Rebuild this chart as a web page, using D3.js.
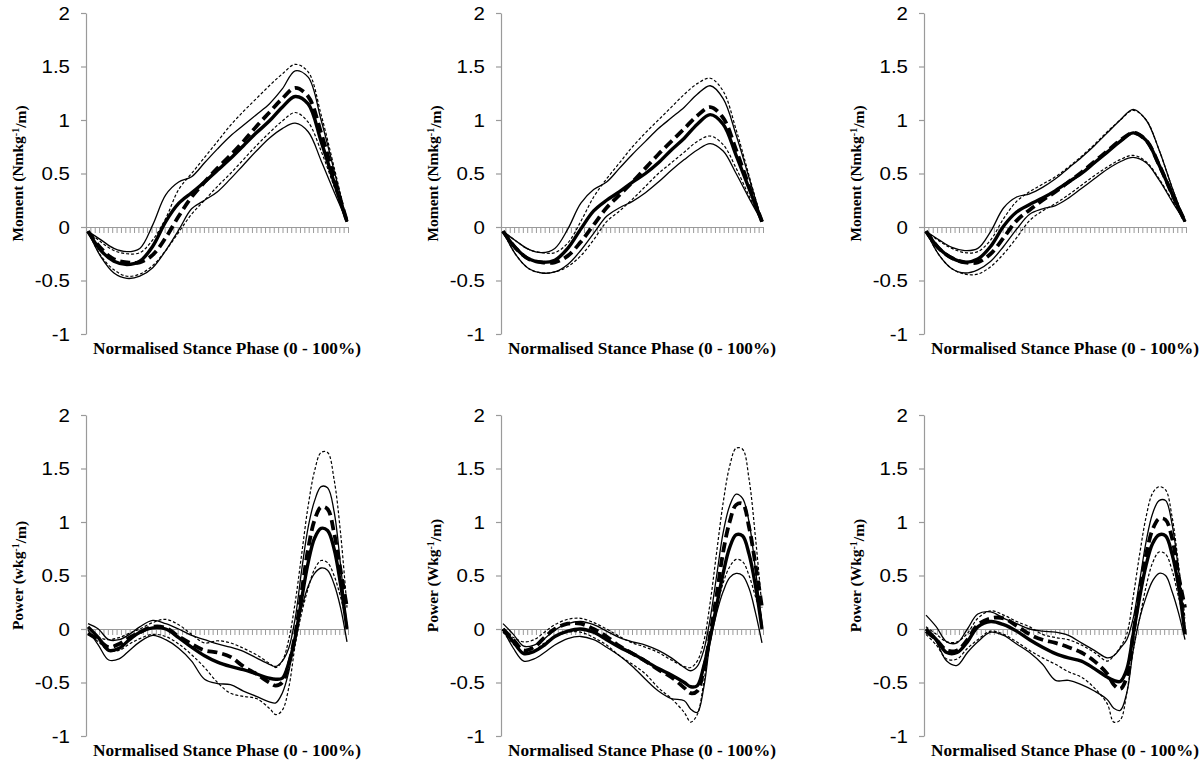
<!DOCTYPE html>
<html><head><meta charset="utf-8">
<script src="https://cdn.jsdelivr.net/npm/d3@7"></script>
<style>
html,body{margin:0;padding:0;background:#fff;}
svg{display:block;}
</style></head>
<body>
<svg id="chart" width="1200" height="760"></svg>
<script>
// ---------------- DATA ----------------
const yTickValues = [-1, -0.5, 0, 0.5, 1, 1.5, 2];
const yTickLabels = ["-1", "-0.5", "0", "0.5", "1", "1.5", "2"];
const xTitle = "Normalised Stance Phase (0 - 100%)";
const momentTitle = ["Moment (Nmkg", "-1", "/m)"];
const powerTitleLower = ["Power (wkg", "-1", "/m)"];
const powerTitleUpper = ["Power (Wkg", "-1", "/m)"];

// stance phase (%) sample positions
const momentPct = [0,5,10,15,20,25,30,35,40,45,50,55,60,65,70,75,80,85,90,95,100];
const powerPct  = [0,4,8,12,16,20,25,30,35,40,45,50,55,60,65,70,72.5,75,77.5,80,82.5,85,87.5,90,92.5,95,97.5,100];

// Panel 1 (top-left) moment
const m1MeanA = [-0.04,-0.22,-0.32,-0.35,-0.32,-0.18,0.05,0.22,0.32,0.42,0.53,0.64,0.76,0.88,0.99,1.12,1.22,1.15,0.8,0.42,0.05];
const m1MeanB = [-0.04,-0.2,-0.3,-0.33,-0.33,-0.26,-0.1,0.1,0.28,0.42,0.55,0.67,0.8,0.94,1.07,1.2,1.3,1.22,0.88,0.46,0.05];
const m1UpA   = [-0.04,-0.12,-0.2,-0.23,-0.2,0.02,0.3,0.42,0.47,0.6,0.73,0.85,0.95,1.05,1.15,1.29,1.46,1.4,1.0,0.53,0.05];
const m1LoA   = [-0.04,-0.28,-0.43,-0.48,-0.46,-0.38,-0.22,-0.03,0.17,0.25,0.33,0.45,0.58,0.71,0.83,0.92,0.97,0.89,0.62,0.33,0.05];
const m1UpB   = [-0.04,-0.14,-0.22,-0.25,-0.24,-0.12,0.08,0.35,0.5,0.65,0.8,0.95,1.08,1.2,1.32,1.43,1.52,1.45,1.05,0.56,0.05];
const m1LoB   = [-0.04,-0.27,-0.4,-0.46,-0.44,-0.36,-0.22,-0.05,0.12,0.25,0.38,0.5,0.63,0.76,0.88,0.99,1.07,0.98,0.71,0.38,0.05];

// Panel 2 (top-middle) moment
const m2MeanA = [-0.04,-0.2,-0.3,-0.33,-0.31,-0.2,-0.02,0.15,0.25,0.33,0.42,0.5,0.6,0.72,0.83,0.96,1.05,0.96,0.67,0.36,0.05];
const m2MeanB = [-0.04,-0.2,-0.3,-0.33,-0.33,-0.27,-0.14,0.02,0.18,0.3,0.42,0.55,0.68,0.8,0.92,1.04,1.12,1.02,0.72,0.38,0.05];
const m2UpA   = [-0.04,-0.13,-0.21,-0.24,-0.2,-0.02,0.22,0.35,0.42,0.55,0.68,0.8,0.92,1.02,1.12,1.24,1.32,1.2,0.86,0.46,0.05];
const m2LoA   = [-0.04,-0.26,-0.39,-0.43,-0.42,-0.35,-0.22,-0.06,0.1,0.18,0.24,0.32,0.42,0.53,0.63,0.72,0.78,0.71,0.5,0.27,0.05];
const m2UpB   = [-0.04,-0.13,-0.21,-0.24,-0.24,-0.15,0.05,0.28,0.45,0.6,0.75,0.88,1.0,1.12,1.24,1.34,1.39,1.27,0.91,0.48,0.05];
const m2LoB   = [-0.04,-0.26,-0.39,-0.43,-0.42,-0.37,-0.27,-0.12,0.05,0.15,0.26,0.38,0.5,0.6,0.7,0.8,0.85,0.77,0.55,0.29,0.05];

// Panel 3 (top-right) moment
const m3MeanA = [-0.04,-0.2,-0.29,-0.33,-0.3,-0.18,0.01,0.14,0.21,0.27,0.34,0.42,0.5,0.6,0.7,0.8,0.88,0.81,0.58,0.31,0.05];
const m3MeanB = [-0.04,-0.2,-0.29,-0.33,-0.33,-0.25,-0.1,0.06,0.16,0.25,0.33,0.42,0.51,0.61,0.71,0.81,0.88,0.81,0.58,0.31,0.05];
const m3UpA   = [-0.04,-0.12,-0.19,-0.22,-0.2,-0.04,0.18,0.28,0.31,0.37,0.45,0.55,0.65,0.76,0.88,1.0,1.1,1.0,0.72,0.37,0.05];
const m3LoA   = [-0.04,-0.26,-0.39,-0.43,-0.4,-0.32,-0.18,-0.02,0.12,0.17,0.2,0.27,0.36,0.45,0.54,0.61,0.65,0.6,0.44,0.24,0.05];
const m3UpB   = [-0.04,-0.13,-0.2,-0.24,-0.23,-0.12,0.08,0.24,0.33,0.4,0.47,0.56,0.66,0.77,0.89,1.0,1.09,1.0,0.72,0.37,0.05];
const m3LoB   = [-0.04,-0.26,-0.39,-0.44,-0.44,-0.37,-0.25,-0.1,0.06,0.15,0.22,0.3,0.39,0.48,0.56,0.63,0.67,0.61,0.45,0.25,0.05];

// Panel 4 (bottom-left) power
const p1MeanA = [0.02,-0.08,-0.2,-0.18,-0.1,-0.03,0.01,0.0,-0.08,-0.17,-0.25,-0.31,-0.35,-0.38,-0.42,-0.46,-0.47,-0.46,-0.32,-0.08,0.28,0.62,0.85,0.94,0.92,0.75,0.42,0.0];
const p1MeanB = [-0.04,-0.1,-0.17,-0.14,-0.08,-0.03,0.02,0.01,-0.07,-0.14,-0.2,-0.22,-0.26,-0.35,-0.42,-0.5,-0.53,-0.5,-0.33,-0.05,0.35,0.75,1.02,1.14,1.12,0.9,0.55,0.2];
const p1UpA   = [0.05,0.0,-0.1,-0.1,-0.05,0.02,0.08,0.05,0.0,-0.06,-0.1,-0.14,-0.17,-0.21,-0.27,-0.33,-0.35,-0.3,-0.18,0.1,0.55,0.95,1.2,1.33,1.32,1.1,0.6,0.0];
const p1LoA   = [-0.01,-0.15,-0.29,-0.28,-0.2,-0.12,-0.06,-0.1,-0.18,-0.3,-0.47,-0.51,-0.52,-0.58,-0.63,-0.68,-0.69,-0.6,-0.4,-0.05,0.2,0.4,0.52,0.57,0.55,0.42,0.2,-0.12];
const p1UpB   = [-0.05,-0.08,-0.1,-0.08,-0.04,0.0,0.06,0.09,0.04,-0.05,-0.13,-0.11,-0.13,-0.18,-0.24,-0.32,-0.36,-0.3,-0.1,0.25,0.7,1.15,1.48,1.65,1.65,1.4,0.9,0.2];
const p1LoB   = [-0.04,-0.12,-0.2,-0.2,-0.14,-0.09,-0.05,-0.07,-0.14,-0.24,-0.36,-0.5,-0.6,-0.63,-0.65,-0.74,-0.8,-0.76,-0.55,-0.15,0.15,0.38,0.56,0.64,0.62,0.5,0.3,0.05];

// Panel 5 (bottom-middle) power
const p2MeanA = [0.0,-0.12,-0.23,-0.21,-0.15,-0.07,-0.02,0.0,-0.03,-0.1,-0.17,-0.23,-0.3,-0.37,-0.43,-0.5,-0.54,-0.53,-0.35,-0.08,0.22,0.52,0.76,0.88,0.87,0.7,0.4,0.0];
const p2MeanB = [0.0,-0.1,-0.2,-0.17,-0.08,0.0,0.05,0.05,0.0,-0.07,-0.16,-0.23,-0.3,-0.38,-0.45,-0.55,-0.6,-0.58,-0.38,-0.05,0.32,0.72,1.0,1.16,1.17,0.95,0.6,0.2];
const p2UpA   = [0.05,-0.05,-0.16,-0.15,-0.09,-0.01,0.05,0.07,0.04,-0.02,-0.08,-0.12,-0.15,-0.2,-0.27,-0.36,-0.39,-0.35,-0.2,0.1,0.5,0.9,1.15,1.26,1.22,1.0,0.55,0.05];
const p2LoA   = [0.0,-0.18,-0.3,-0.28,-0.22,-0.15,-0.09,-0.07,-0.1,-0.17,-0.25,-0.35,-0.47,-0.58,-0.65,-0.67,-0.75,-0.78,-0.55,-0.12,0.15,0.35,0.48,0.52,0.5,0.38,0.15,-0.13];
const p2UpB   = [-0.03,-0.08,-0.12,-0.1,-0.03,0.04,0.09,0.1,0.06,0.0,-0.07,-0.13,-0.17,-0.22,-0.29,-0.35,-0.36,-0.3,-0.12,0.25,0.72,1.18,1.52,1.69,1.68,1.4,0.85,0.2];
const p2LoB   = [-0.03,-0.14,-0.22,-0.2,-0.13,-0.07,-0.03,-0.03,-0.08,-0.15,-0.25,-0.33,-0.42,-0.55,-0.65,-0.78,-0.87,-0.8,-0.5,-0.1,0.2,0.43,0.58,0.65,0.63,0.5,0.3,0.1];

// Panel 6 (bottom-right) power
const p3MeanA = [0.0,-0.1,-0.22,-0.22,-0.12,0.02,0.07,0.04,-0.02,-0.1,-0.17,-0.23,-0.27,-0.3,-0.37,-0.45,-0.48,-0.49,-0.38,-0.05,0.3,0.6,0.8,0.88,0.87,0.7,0.4,-0.05];
const p3MeanB = [-0.02,-0.1,-0.2,-0.2,-0.1,0.04,0.1,0.1,0.03,-0.05,-0.1,-0.13,-0.17,-0.22,-0.3,-0.42,-0.52,-0.56,-0.45,-0.05,0.35,0.7,0.93,1.03,1.02,0.85,0.5,0.2];
const p3UpA   = [0.13,0.02,-0.12,-0.13,0.0,0.14,0.16,0.1,0.05,0.0,-0.02,-0.03,-0.06,-0.13,-0.2,-0.27,-0.25,-0.18,-0.1,0.1,0.45,0.82,1.08,1.2,1.2,0.98,0.55,0.0];
const p3LoA   = [0.0,-0.12,-0.3,-0.34,-0.22,-0.12,-0.03,-0.06,-0.14,-0.22,-0.33,-0.48,-0.48,-0.52,-0.58,-0.66,-0.74,-0.76,-0.6,-0.2,0.1,0.3,0.45,0.52,0.5,0.35,0.15,-0.1];
const p3UpB   = [0.02,-0.05,-0.12,-0.12,-0.04,0.1,0.17,0.13,0.07,0.02,-0.05,-0.08,-0.1,-0.15,-0.22,-0.3,-0.25,-0.17,-0.05,0.3,0.7,1.05,1.27,1.33,1.3,1.05,0.6,0.1];
const p3LoB   = [-0.05,-0.15,-0.28,-0.28,-0.18,-0.1,-0.02,-0.05,-0.12,-0.2,-0.27,-0.33,-0.4,-0.45,-0.55,-0.7,-0.87,-0.85,-0.6,-0.2,0.1,0.4,0.62,0.72,0.7,0.55,0.3,0.05];

// ---------------- LAYOUT ----------------
const svg = d3.select("#chart");
const plotW = 262;
const colX = [86, 501, 924];
const rowTop = [13, 415];
const plotH = 321;
const axisColor = "#9a9a9a";

const panels = [
  {col:0,row:0,pct:momentPct,title:momentTitle,series:[m1UpA,m1LoA,m1UpB,m1LoB,m1MeanA,m1MeanB]},
  {col:1,row:0,pct:momentPct,title:momentTitle,series:[m2UpA,m2LoA,m2UpB,m2LoB,m2MeanA,m2MeanB]},
  {col:2,row:0,pct:momentPct,title:momentTitle,series:[m3UpA,m3LoA,m3UpB,m3LoB,m3MeanA,m3MeanB]},
  {col:0,row:1,pct:powerPct,title:powerTitleLower,series:[p1UpA,p1LoA,p1UpB,p1LoB,p1MeanA,p1MeanB]},
  {col:1,row:1,pct:powerPct,title:powerTitleUpper,series:[p2UpA,p2LoA,p2UpB,p2LoB,p2MeanA,p2MeanB]},
  {col:2,row:1,pct:powerPct,title:powerTitleUpper,series:[p3UpA,p3LoA,p3UpB,p3LoB,p3MeanA,p3MeanB]},
];
// styles: thin solid, thin solid, thin dashed, thin dashed, thick solid, thick dashed
const styles = [
  {w:1.3, dash:null},
  {w:1.3, dash:null},
  {w:1.2, dash:"3,2"},
  {w:1.2, dash:"3,2"},
  {w:3.4, dash:null},
  {w:3.8, dash:"10,5"},
];

panels.forEach(p => {
  const x0 = colX[p.col], y0 = rowTop[p.row];
  const g = svg.append("g").attr("transform", `translate(${x0},${y0})`);
  const y = d3.scaleLinear().domain([-1, 2]).range([plotH, 0]);
  const x = d3.scaleLinear().domain([0, 100]).range([2, plotW - 1]);

  // y axis
  const yAxis = d3.axisLeft(y).tickValues(yTickValues)
    .tickFormat((d,i) => yTickLabels[i]).tickSize(5).tickSizeOuter(0).tickPadding(0);
  const ga = g.append("g").call(yAxis);
  ga.select(".domain").attr("stroke", axisColor).attr("stroke-width", 1.2);
  ga.selectAll(".tick line").attr("stroke", axisColor).attr("stroke-width", 1.2);
  ga.selectAll(".tick text")
    .attr("x", 0).attr("dy", "0.36em")
    .attr("text-anchor", "end")
    .attr("transform", "translate(-16,0) scale(1.17,1)")
    .attr("fill", "#000")
    .style("font-family", "'Liberation Sans', Arial, Helvetica, sans-serif")
    .style("font-size", "17.5px");

  // zero line with dense ticks (60 intervals)
  const xt = d3.scaleLinear().domain([0, 60]).range([0, plotW]);
  const zeroTicks = [];
  for (let i = 0; i <= 60; i++) zeroTicks.push(i);
  const zAxis = d3.axisBottom(xt).tickValues(zeroTicks).tickFormat("").tickSize(6).tickSizeOuter(0);
  const gz = g.append("g").attr("transform", `translate(0,${y(0)})`).call(zAxis);
  gz.select(".domain").attr("stroke", axisColor).attr("stroke-width", 1.2);
  gz.selectAll(".tick line").attr("stroke", axisColor).attr("stroke-width", 1);

  // curves
  const line = d3.line()
    .x((d,i) => x(p.pct[i]))
    .y(d => y(d))
    .curve(d3.curveCatmullRom.alpha(0.5));
  p.series.forEach((s, k) => {
    g.append("path")
      .attr("d", line(s))
      .attr("fill", "none")
      .attr("stroke", "#000")
      .attr("stroke-width", styles[k].w)
      .attr("stroke-dasharray", styles[k].dash)
      .attr("stroke-linejoin", "round");
  });

  // y title
  const yt = g.append("text")
    .attr("transform", `translate(-68,${plotH/2}) rotate(-90)`)
    .attr("text-anchor", "middle")
    .style("font-family", "'Liberation Serif', 'Times New Roman', serif")
    .style("font-weight", "bold")
    .style("font-size", "15.5px")
    .attr("dy", "0.35em");
  yt.append("tspan").text(p.title[0]);
  yt.append("tspan").attr("dy", "-0.45em").style("font-size", "10px").text(p.title[1]);
  yt.append("tspan").attr("dy", "0.45em").text(p.title[2]);

  // x title
  g.append("text")
    .attr("x", 7).attr("y", plotH + 20)
    .attr("textLength", 268).attr("lengthAdjust", "spacingAndGlyphs")
    .style("font-family", "'Liberation Serif', 'Times New Roman', serif")
    .style("font-weight", "bold")
    .style("font-size", "16px")
    .text(xTitle);
});
</script>
</body></html>
